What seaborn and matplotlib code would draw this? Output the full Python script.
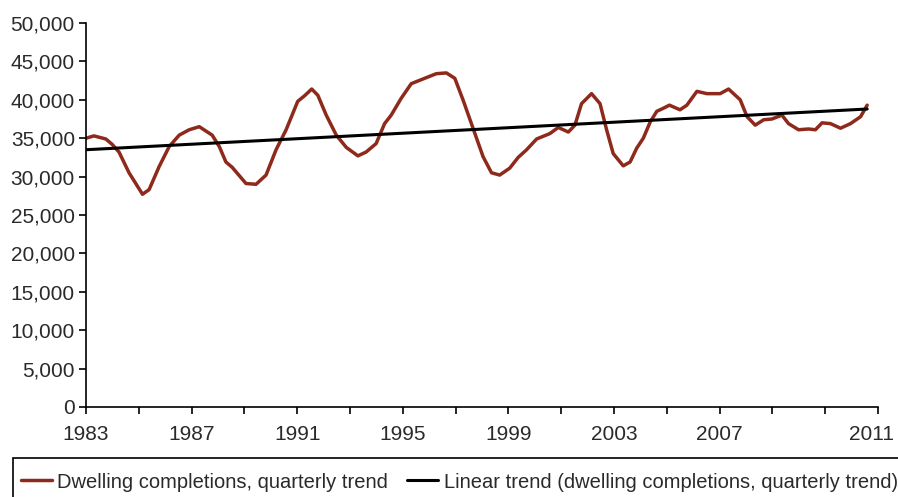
import matplotlib
matplotlib.use("Agg")
import matplotlib.pyplot as plt
import seaborn as sns
import pandas as pd
from matplotlib.patches import Rectangle
from matplotlib.transforms import ScaledTranslation
from matplotlib.lines import Line2D

# ---- data ----
years = [1983.00, 1983.30, 1983.75, 1983.99, 1984.25, 1984.63, 1985.14, 1985.39, 1985.77,
         1986.15, 1986.53, 1986.91, 1987.29, 1987.78, 1988.05, 1988.30, 1988.54, 1989.06,
         1989.44, 1989.82, 1990.20, 1990.58, 1991.02, 1991.27, 1991.55, 1991.78, 1992.10,
         1992.48, 1992.86, 1993.30, 1993.61, 1993.99, 1994.31, 1994.56, 1994.94, 1995.32,
         1995.83, 1996.27, 1996.65, 1996.97, 1997.28, 1997.66, 1998.04, 1998.36, 1998.67,
         1999.05, 1999.37, 1999.69, 2000.07, 2000.57, 2000.89, 2001.27, 2001.52, 2001.77,
         2002.15, 2002.47, 2002.72, 2002.97, 2003.35, 2003.61, 2003.86, 2004.11, 2004.37,
         2004.62, 2004.87, 2005.10, 2005.50, 2005.76, 2006.14, 2006.52, 2007.02, 2007.34,
         2007.78, 2008.04, 2008.35, 2008.67, 2008.98, 2009.36, 2009.61, 2009.99, 2010.37,
         2010.63, 2010.88, 2011.20, 2011.58, 2011.96, 2012.34, 2012.59]
completions = [35000, 35300, 34900, 34200, 33200, 30500, 27700, 28300, 31300,
               33900, 35400, 36100, 36500, 35400, 33900, 31900, 31200, 29100,
               29000, 30200, 33500, 36100, 39800, 40500, 41400, 40600, 38000,
               35400, 33800, 32700, 33200, 34300, 36900, 38000, 40200, 42100,
               42800, 43400, 43500, 42800, 40000, 36300, 32600, 30500, 30200,
               31100, 32500, 33500, 34900, 35600, 36400, 35800, 36700, 39500,
               40800, 39500, 36100, 33000, 31400, 31900, 33700, 35000, 37100,
               38500, 38900, 39300, 38700, 39300, 41100, 40800, 40800, 41400,
               40000, 37800, 36700, 37400, 37500, 38000, 36900, 36100, 36200,
               36100, 37000, 36900, 36300, 36900, 37800, 39300]
trend_years = [1983.00, 2012.59]
trend_values = [33500, 38800]
tick_years = list(range(1983, 2014, 2))
tick_labels = ["1983", "", "1987", "", "1991", "", "1995", "", "1999", "",
               "2003", "", "2007", "", "", "2011"]
y_ticks = list(range(0, 50001, 5000))
series_names = ["Dwelling completions, quarterly trend",
                "Linear trend (dwelling completions, quarterly trend)"]

RED = "#8E2A1C"
TXT = "#2a2a2a"

sns.set_theme(style="white")
plt.rcParams["font.family"] = ["Liberation Sans", "DejaVu Sans"]

fig = plt.figure(figsize=(8.98, 4.97), dpi=100)
ax = fig.add_axes([86 / 898, 1 - 407 / 497, (878 - 86) / 898, (407 - 23) / 497])

df = pd.DataFrame({"year": years, "value": completions})
tdf = pd.DataFrame({"year": trend_years, "value": trend_values})

sns.lineplot(data=df, x="year", y="value", color=RED, lw=2.5, ax=ax,
             solid_joinstyle="round", solid_capstyle="round")
sns.lineplot(data=tdf, x="year", y="value", color="black", lw=2.2, ax=ax)

ax.set_xlim(1983, 2013)
ax.set_ylim(0, 50000)
ax.set_xticks(tick_years)
ax.set_xticklabels(tick_labels)
ax.set_yticks(y_ticks)
ax.set_yticklabels([f"{v:,}" for v in y_ticks])
ax.set_xlabel("")
ax.set_ylabel("")

for s in ["top", "right"]:
    ax.spines[s].set_visible(False)
for s in ["left", "bottom"]:
    ax.spines[s].set_color("black")
    ax.spines[s].set_linewidth(1.2)

ax.tick_params(axis="both", direction="out", length=5, width=1.2, color="black",
               labelsize=15, labelcolor=TXT)
ax.tick_params(axis="y", pad=3)
ax.tick_params(axis="x", pad=8)
ax.tick_params(left=True, bottom=True)

# shift last label slightly left to match reference
lbl = ax.get_xticklabels()[-1]
lbl.set_transform(lbl.get_transform() + ScaledTranslation(-7 / 100, 0, fig.dpi_scale_trans))

# legend
handles = [Line2D([], [], color=RED, lw=2.5), Line2D([], [], color="black", lw=2.2)]
fig.legend(handles, series_names, loc="center left",
           bbox_to_anchor=(21 / 898, 1 - 482 / 497), frameon=False, ncol=2,
           fontsize=14.5, handlelength=1.55, handletextpad=0.25, columnspacing=0.95,
           borderaxespad=0, borderpad=0, labelcolor=TXT)
fig.add_artist(Rectangle((13 / 898, -0.1), (900 - 13) / 898, (1 - 458 / 497) + 0.1,
                         transform=fig.transFigure, fill=False, lw=1.2, ec="black"))

fig.savefig("out.png", dpi=100)
